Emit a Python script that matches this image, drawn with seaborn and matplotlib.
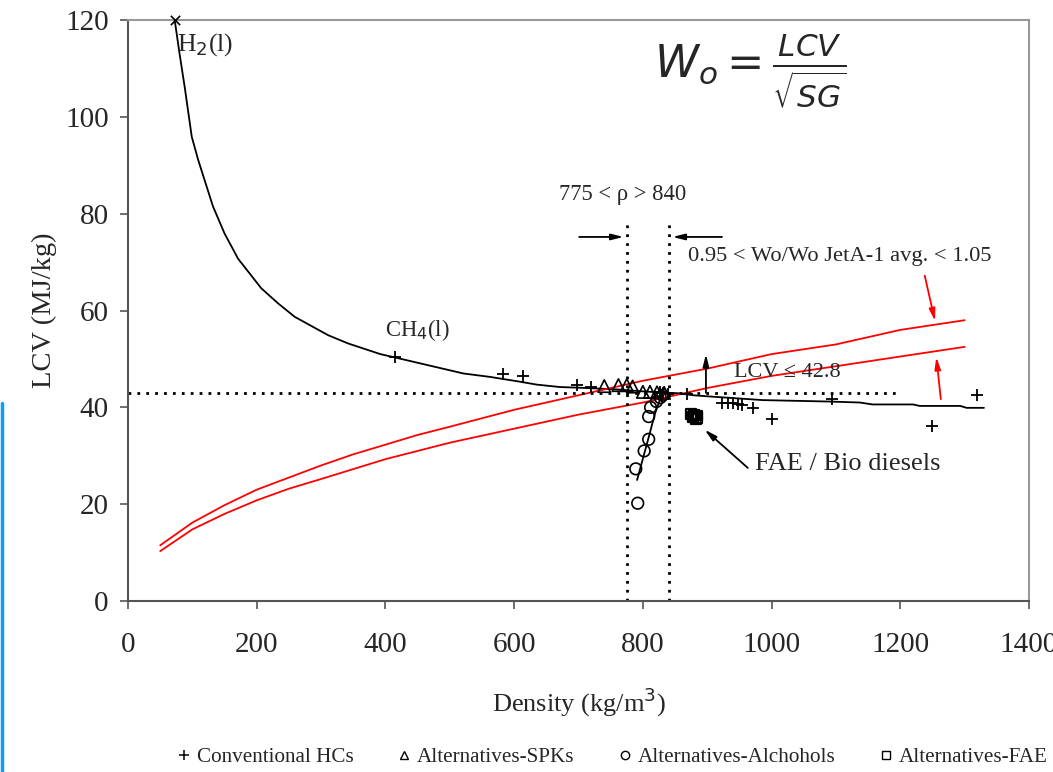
import numpy as np
import pandas as pd
import matplotlib
matplotlib.use("Agg")
import matplotlib.pyplot as plt
from matplotlib.lines import Line2D
import seaborn as sns

# ---- data ----
curve_density = [72.5, 80, 88, 99, 109, 132, 150, 171, 207, 233, 259, 311, 342, 392, 415,
                 521, 562, 609, 635, 671, 702, 760, 800, 840, 857, 878, 909, 986, 1090,
                 1137, 1157, 1220, 1230, 1293, 1303, 1330]
curve_lcv = [120, 113.1, 106.2, 95.9, 91.1, 81.5, 75.9, 70.7, 64.6, 61.5, 58.7, 54.9, 53.2, 51.0, 50.3,
             47.0, 46.3, 45.3, 44.7, 44.2, 44.05, 43.7, 43.3, 43.0, 42.9, 42.5, 42.2, 41.5, 41.2,
             41.0, 40.6, 40.6, 40.3, 40.3, 39.9, 39.9]

wo_upper_density = [50, 100, 150, 200, 250, 300, 350, 400, 450, 500, 600, 700, 800, 900, 1000, 1100, 1200, 1300]
wo_upper_lcv = [11.5, 16.2, 19.8, 23.0, 25.5, 28.0, 30.3, 32.3, 34.3, 36.0, 39.5, 42.5, 45.5, 48.0, 51.0, 53.0, 56.0, 58.0]
wo_lower_density = [50, 100, 150, 200, 250, 300, 400, 500, 600, 700, 800, 900, 1000, 1100, 1200, 1300]
wo_lower_lcv = [10.3, 14.8, 18.0, 20.8, 23.2, 25.2, 29.3, 32.7, 35.6, 38.5, 41.0, 44.0, 46.5, 48.5, 50.5, 52.5]

hc_density = [415, 582, 613, 697, 719, 826, 831, 839, 868, 923, 932, 940, 948, 954, 971, 1000, 1094, 1250, 1319]
hc_lcv = [50.5, 46.9, 46.5, 44.6, 44.3, 43.2, 43.0, 42.8, 42.7, 40.9, 40.9, 40.9, 40.6, 40.4, 39.9, 37.6, 41.7, 36.1, 42.5]

spk_density = [740, 762, 775, 784, 800, 811, 822, 833]
spk_lcv = [44.4, 44.6, 44.6, 44.3, 43.2, 43.2, 43.1, 43.0]

alc_density = [792, 789, 802, 809, 809, 812, 821, 827, 831]
alc_lcv = [20.2, 27.3, 31.0, 33.4, 38.1, 40.0, 41.2, 42.0, 42.5]
alc_fit_density = [791, 808, 819, 829]
alc_fit_lcv = [25.0, 33.3, 38.8, 42.5]

fae_density = [875, 878, 882, 885, 880, 884]
fae_lcv = [38.6, 38.0, 37.6, 37.8, 38.4, 38.3]

h2_density = [72.5]
h2_lcv = [120]

x_ticks = [0, 200, 400, 600, 800, 1000, 1200, 1400]
y_ticks = [0, 20, 40, 60, 80, 100, 120]

# ---- style ----
sns.set_theme(style="white")
plt.rcParams['font.family'] = ['Liberation Serif', 'DejaVu Serif']
plt.rcParams['mathtext.fontset'] = 'dejavusans'

fig = plt.figure(figsize=(10.53, 7.72), dpi=100)
ax = fig.add_axes([0.1216, 0.2215, 0.9772 - 0.1216, 0.974 - 0.2215])

sns.lineplot(x=curve_density, y=curve_lcv, ax=ax, color='black', lw=1.3, sort=False, estimator=None)
sns.lineplot(x=wo_upper_density, y=wo_upper_lcv, ax=ax, color='#ff0000', lw=1.3, sort=False, estimator=None)
sns.lineplot(x=wo_lower_density, y=wo_lower_lcv, ax=ax, color='#ff0000', lw=1.3, sort=False, estimator=None)
sns.lineplot(x=alc_fit_density, y=alc_fit_lcv, ax=ax, color='black', lw=1.3, sort=False, estimator=None)

sns.scatterplot(x=hc_density, y=hc_lcv, ax=ax, marker='+', s=70, color='black', linewidth=1.3, zorder=5)
sns.scatterplot(x=spk_density, y=spk_lcv, ax=ax, marker='^', s=80, facecolor='none', edgecolor='black', linewidth=1.2, zorder=5)
sns.scatterplot(x=alc_density, y=alc_lcv, ax=ax, marker='o', s=70, facecolor='none', edgecolor='black', linewidth=1.2, zorder=5)
sns.scatterplot(x=fae_density, y=fae_lcv, ax=ax, marker='s', s=50, facecolor='none', edgecolor='black', linewidth=1.6, zorder=5)
ax.scatter(h2_density, h2_lcv, marker='x', s=45, color='black', linewidth=1.2, zorder=6, clip_on=False)

# dotted guide lines
ax.plot([0, 1200], [43, 43], color='black', lw=2, linestyle=(0, (1, 2.2)))
ax.plot([775, 775], [0, 79], color='black', lw=2, linestyle=(0, (1, 2.2)))
ax.plot([840, 840], [0, 79], color='black', lw=2, linestyle=(0, (1, 2.2)))

# arrows
akw = dict(arrowstyle='-|>,head_length=0.6,head_width=0.15', color='black', lw=1.3, shrinkA=0, shrinkB=0)
ax.annotate('', xy=(770, 75.2), xytext=(701, 75.2), arrowprops=akw)
ax.annotate('', xy=(846, 75.2), xytext=(923, 75.2), arrowprops=akw)
ax.annotate('', xy=(898, 51), xytext=(898, 43), arrowprops=akw)
ax.annotate('', xy=(896, 35.4), xytext=(963, 27.5), arrowprops=akw)
rkw = dict(akw, color='#ff0000')
ax.annotate('', xy=(1254, 57.8), xytext=(1238, 67.2), arrowprops=rkw)
ax.annotate('', xy=(1256, 50.4), xytext=(1263, 41.7), arrowprops=rkw)

# text annotations
ax.text(76, 115.0, r'H$_2$(l)', fontsize=18.5, ha='left', va='center')
ax.text(450, 56, r'CH$_4$(l)', fontsize=16.3, ha='center', va='center')
ax.text(769, 84, u'775 < \u03c1 > 840', fontsize=16.3, ha='center', va='center')
ax.text(870, 71.2, '0.95 < Wo/Wo JetA-1 avg. < 1.05', fontsize=16.2, ha='left', va='center')
ax.text(941, 47.3, u'LCV \u2264 42.8', fontsize=16, ha='left', va='center')
ax.text(975, 28.3, 'FAE / Bio diesels', fontsize=19, ha='left', va='center')
ax.text(966, 109.4, r'$W_o = \frac{LCV}{\sqrt{SG}}$', fontsize=32, ha='center', va='center')

# axes
ax.set_xlim(0, 1400)
ax.set_ylim(0, 120)
ax.set_xticks(x_ticks)
ax.set_yticks(y_ticks)
ax.tick_params(axis='both', labelsize=21, direction='out', length=6, width=1.2, color='#555555',
               bottom=True, left=True)
ax.tick_params(axis='x', pad=16)
ax.tick_params(axis='y', pad=8)
ax.set_xlabel(r'Density (kg/m$^3$)', fontsize=19, labelpad=20)
ax.set_ylabel('LCV (MJ/kg)', fontsize=20.5, labelpad=6)
for side in ['left', 'bottom']:
    ax.spines[side].set_color('#555555')
    ax.spines[side].set_linewidth(1.5)
for side in ['top', 'right']:
    ax.spines[side].set_color('#999999')
    ax.spines[side].set_linewidth(1.5)
ax.grid(False)

# legend
handles = [
    Line2D([], [], marker='+', color='black', ls='none', markersize=7, mew=1.1),
    Line2D([], [], marker='^', markerfacecolor='none', markeredgecolor='black', ls='none', markersize=6, mew=1.0),
    Line2D([], [], marker='o', markerfacecolor='none', markeredgecolor='black', ls='none', markersize=6, mew=1.0),
    Line2D([], [], marker='s', markerfacecolor='none', markeredgecolor='black', ls='none', markersize=6, mew=1.0),
]
labels = ['Conventional HCs', 'Alternatives-SPKs', 'Alternatives-Alchohols', 'Alternatives-FAE']
fig.legend(handles, labels, loc='center', bbox_to_anchor=(0.582, 0.0194), ncol=4, frameon=False,
           fontsize=15.2, handlelength=0.6, handletextpad=0.3, columnspacing=2.1,
           borderpad=0.0, borderaxespad=0.0)

# blue edge artifact
fig.add_artist(Line2D([0.0015, 0.0015], [0.0, 0.478], color='#0a9cff', lw=2.5, transform=fig.transFigure))

fig.savefig('out.png', dpi=100)
